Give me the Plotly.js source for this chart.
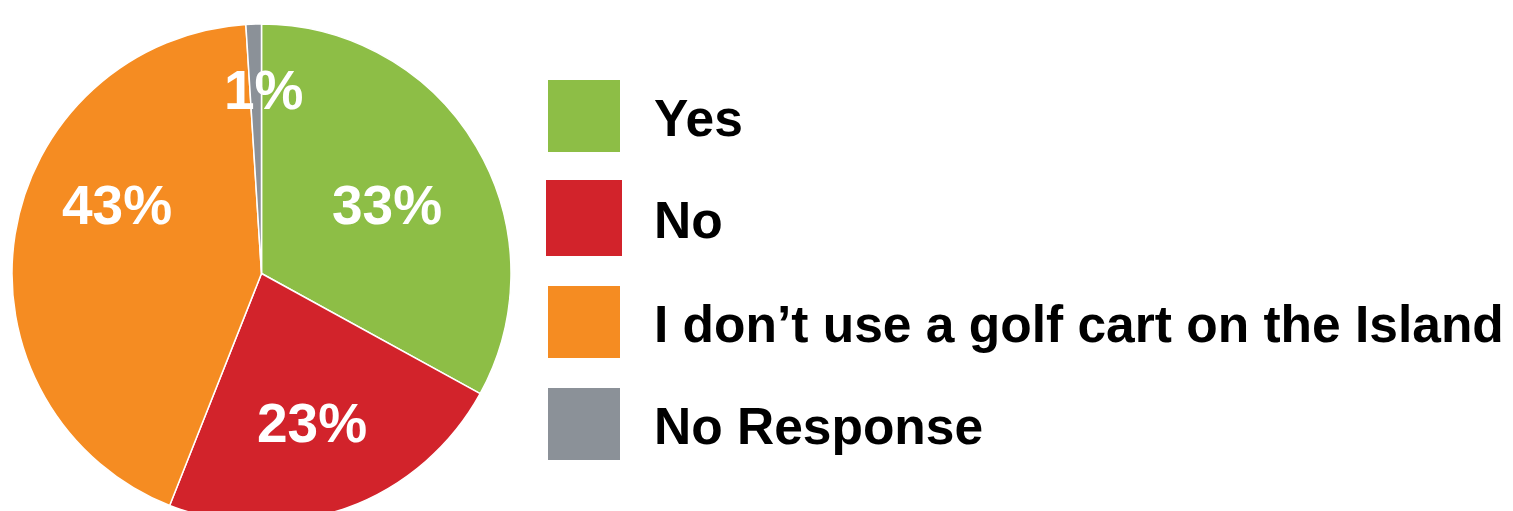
<!DOCTYPE html>
<html>
<head>
<meta charset="utf-8">
<script src="https://cdn.plot.ly/plotly-3.0.1.min.js"></script>
<style>
html,body{margin:0;padding:0;background:#fff;overflow:hidden;}
#chart{width:1513px;height:530px;}
</style>
</head>
<body>
<div id="chart"></div>
<script>
var labels = ["Yes", "No", "I don\u2019t use a golf cart on the Island", "No Response"];
var values = [33, 23, 43, 1];
var colors = ["#8DBE46", "#D2232B", "#F58C22", "#8B9198"];

var W = 1513, H = 530;
function px(x){ return x / W; }
function py(y){ return (H - y) / H; }

// label anchor points (pixels) for the percentage texts
var labelPos = [[387, 205], [312, 423], [117, 205], [264, 90]];
// legend rows (pixels)
var legendRows = [116, 218, 322, 424];

var annotations = [];
var shapes = [];
for (var i = 0; i < labels.length; i++) {
  annotations.push({
    xref: "paper", yref: "paper",
    x: px(labelPos[i][0]), y: py(labelPos[i][1]),
    xanchor: "center", yanchor: "middle",
    text: "<b>" + values[i] + "%</b>",
    showarrow: false,
    font: {family: "Liberation Sans, Arial, sans-serif", size: 55, color: "#ffffff"}
  });
  var cy = legendRows[i];
  var half = (i === 1) ? 38 : 36;
  shapes.push({
    type: "rect", xref: "paper", yref: "paper",
    x0: px(584 - half), x1: px(584 + half), y0: py(cy - half), y1: py(cy + half),
    fillcolor: colors[i], line: {width: 0}
  });
  annotations.push({
    xref: "paper", yref: "paper",
    x: px(652), y: py(cy + 2),
    xanchor: "left", yanchor: "middle",
    text: "<b>" + labels[i] + "</b>",
    showarrow: false,
    font: {family: "Liberation Sans, Arial, sans-serif", size: 51.5, color: "#000000"}
  });
}

var trace = {
  type: "pie",
  labels: labels,
  values: values,
  sort: false,
  direction: "clockwise",
  rotation: 0,
  marker: {colors: colors, line: {color: "#ffffff", width: 1.5}},
  textinfo: "none",
  hoverinfo: "label+percent",
  showlegend: false,
  domain: {x: [px(12), px(511)], y: [py(523), py(24)]}
};

var layout = {
  width: W, height: H,
  margin: {l: 0, r: 0, t: 0, b: 0},
  paper_bgcolor: "#ffffff",
  plot_bgcolor: "#ffffff",
  showlegend: false,
  annotations: annotations,
  shapes: shapes
};

Plotly.newPlot("chart", [trace], layout, {displayModeBar: false, staticPlot: true});
</script>
</body>
</html>
